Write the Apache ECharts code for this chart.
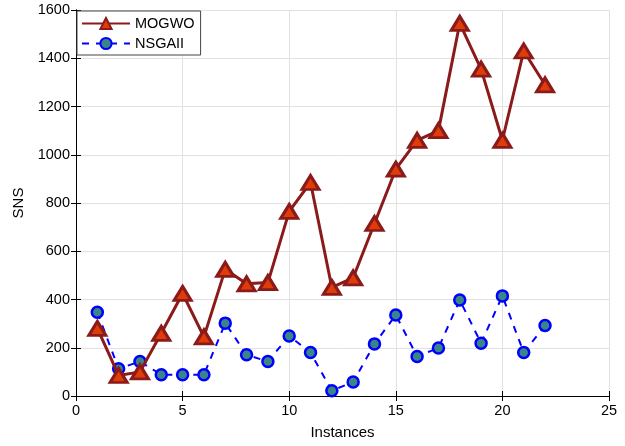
<!DOCTYPE html>
<html>
<head>
<meta charset="utf-8">
<script src="https://cdn.jsdelivr.net/npm/echarts@6/dist/echarts.min.js"></script>
<style>
  html, body { margin: 0; padding: 0; background: #fff; }
  #chart { width: 625px; height: 446px; }
</style>
</head>
<body>
<div id="chart"></div>
<script>
// Instance indices on the x axis
const instances = [1, 2, 3, 4, 5, 6, 7, 8, 9, 10, 11, 12, 13, 14, 15, 16, 17, 18, 19, 20, 21, 22];
// SNS values per algorithm
const mogwo = [280, 85, 100, 260, 425, 245, 525, 465, 470, 765, 885, 450, 490, 715, 940, 1060, 1100, 1545, 1355, 1060, 1430, 1290];
const nsgaii = [347, 113, 143, 88, 88, 88, 302, 171, 143, 249, 180, 22, 58, 216, 336, 164, 199, 398, 219, 415, 180, 292];
// Axis ranges
const xRange = { min: 0, max: 25, step: 5 };
const yRange = { min: 0, max: 1600, step: 200 };

const pairs = (ys) => instances.map((x, i) => [x, ys[i]]);
const font = 'Liberation Sans, Arial, sans-serif';
const plainNumber = (v) => String(v);

const chart = echarts.init(document.getElementById('chart'), null, { renderer: 'canvas' });

const axisCommon = {
  type: 'value',
  axisLine: { show: true, lineStyle: { color: '#000', width: 1 } },
  axisTick: { show: true, inside: true, length: 5, lineStyle: { color: '#000' } },
  axisLabel: { color: '#000', fontFamily: font, fontSize: 14.5, formatter: plainNumber },
  splitLine: { show: false }
};

chart.setOption({
  animation: false,
  backgroundColor: '#fff',
  grid: { left: 76, right: 16, top: 10, bottom: 50, containLabel: false },
  legend: {
    orient: 'vertical',
    left: 77,
    top: 11,
    backgroundColor: '#fff',
    borderColor: '#444',
    borderWidth: 1,
    padding: [5, 6, 4, 4],
    itemGap: 5,
    itemWidth: 48,
    itemHeight: 14,
    textStyle: { color: '#000', fontFamily: font, fontSize: 14.5 },
    data: ['MOGWO', 'NSGAII']
  },
  xAxis: [
    Object.assign({}, axisCommon, {
      min: xRange.min, max: xRange.max, interval: xRange.step,
      position: 'bottom',
      name: 'Instances',
      nameLocation: 'middle',
      nameGap: 29,
      nameTextStyle: { color: '#000', fontFamily: font, fontSize: 15 },
      axisLabel: { color: '#000', fontFamily: font, fontSize: 14.5, margin: 7, formatter: plainNumber },
      splitLine: { show: true, lineStyle: { color: '#e1e1e1', width: 1 } }
    }),
    Object.assign({}, axisCommon, {
      min: xRange.min, max: xRange.max, interval: xRange.step,
      position: 'top',
      axisLabel: { show: false }
    })
  ],
  yAxis: [
    Object.assign({}, axisCommon, {
      min: yRange.min, max: yRange.max, interval: yRange.step,
      position: 'left',
      name: 'SNS',
      nameLocation: 'middle',
      nameGap: 49,
      nameTextStyle: { color: '#000', fontFamily: font, fontSize: 15 },
      axisLabel: { color: '#000', fontFamily: font, fontSize: 14.5, margin: 6, formatter: plainNumber },
      splitLine: { show: true, lineStyle: { color: '#e1e1e1', width: 1 } }
    }),
    Object.assign({}, axisCommon, {
      min: yRange.min, max: yRange.max, interval: yRange.step,
      position: 'right',
      axisLabel: { show: false }
    })
  ],
  series: [
    {
      name: 'MOGWO',
      type: 'line',
      xAxisIndex: 0,
      yAxisIndex: 0,
      data: pairs(mogwo),
      symbol: 'triangle',
      symbolSize: [17, 14],
      lineStyle: { color: '#8b1a1a', width: 3 },
      itemStyle: { color: '#e03c08', borderColor: '#8b1a1a', borderWidth: 3 },
      z: 3
    },
    {
      name: 'NSGAII',
      type: 'line',
      xAxisIndex: 0,
      yAxisIndex: 0,
      data: pairs(nsgaii),
      symbol: 'circle',
      symbolSize: 11,
      lineStyle: { color: '#0000ff', width: 2, type: [7, 7] },
      itemStyle: { color: '#3a8587', borderColor: '#0000ff', borderWidth: 2.5 },
      z: 2
    }
  ]
});
</script>
</body>
</html>
